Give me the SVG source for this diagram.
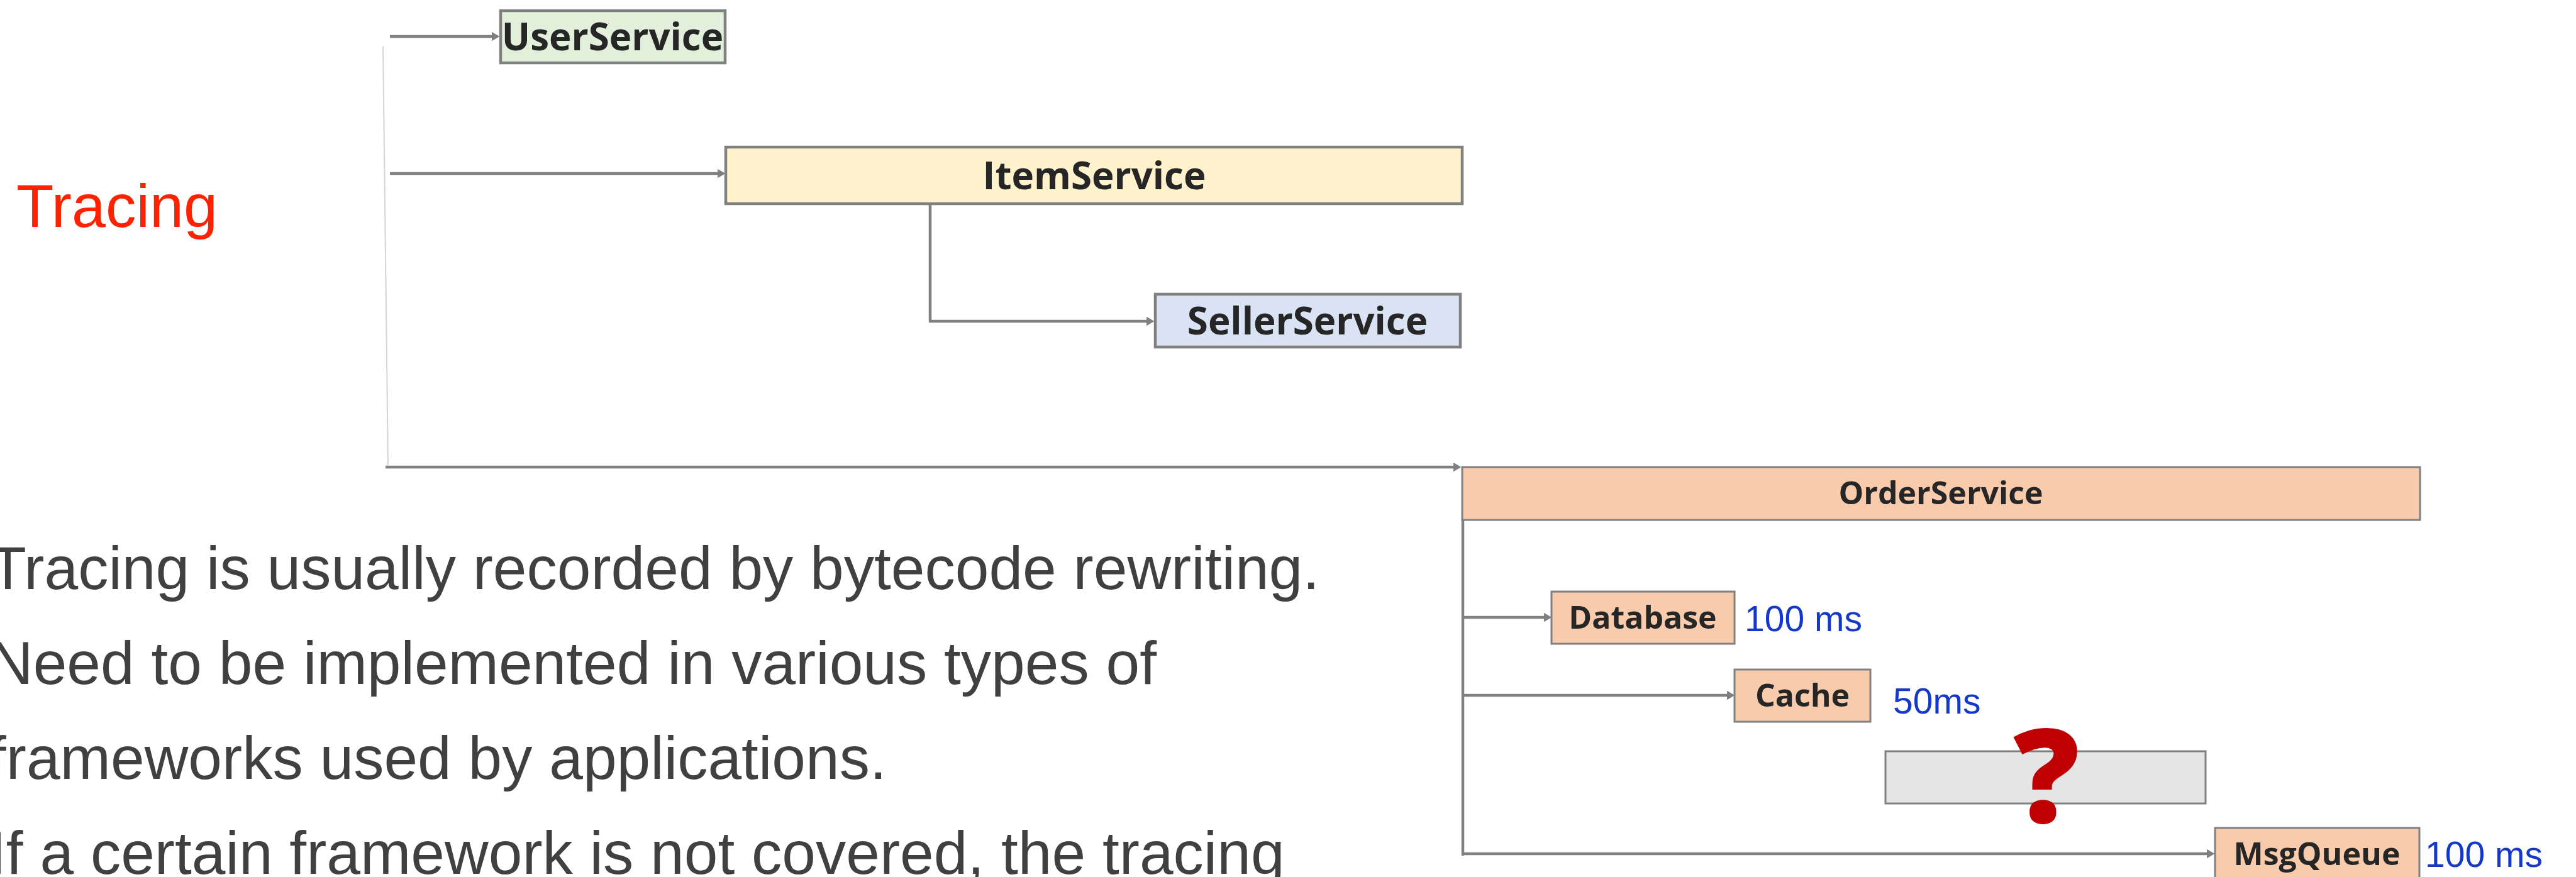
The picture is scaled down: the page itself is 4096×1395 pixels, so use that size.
<svg xmlns="http://www.w3.org/2000/svg" width="4096" height="1395" viewBox="0 0 4096 1395">
  <defs>
    <marker id="arrow" viewBox="0 0 12 14" refX="6" refY="7" markerWidth="13" markerHeight="15" markerUnits="userSpaceOnUse" orient="auto">
      <path d="M0,0 L12,7 L0,14 z" fill="#808080"/>
    </marker>
    <style>
      .svc { stroke: #808080; stroke-width: 4.5; }
      .sub { stroke: #808080; stroke-width: 3; }
      .lbl { font-family: "Open Sans", "Noto Sans", "DejaVu Sans", sans-serif; font-weight: 700; fill: #262626; text-anchor: middle; }
      .big { font-size: 60px; }
      .small { font-size: 50px; }
      .ms { font-family: "Liberation Sans", Arial, sans-serif; font-size: 57px; fill: #1438c8; }
      .body { font-family: "Liberation Sans", Arial, sans-serif; font-size: 96.5px; fill: #404040; }
      .conn { fill: none; stroke: #808080; stroke-width: 4.5; }
    </style>
  </defs>

  <rect width="4096" height="1395" fill="#ffffff"/>

  <!-- heading and notes -->
  <text x="26" y="361" font-family="Liberation Sans, Arial, sans-serif" font-size="97" fill="#ff2200">Tracing</text>
  <g id="notes">
    <text class="body" x="-17" y="937">Tracing is usually recorded by bytecode rewriting.</text>
    <text class="body" x="-17" y="1088">Need to be implemented in various types of</text>
    <text class="body" x="-17" y="1239">frameworks used by applications.</text>
    <text class="body" x="-17" y="1390">If a certain framework is not covered, the tracing</text>
  </g>

  <!-- call connectors -->
  <g id="connectors">
    <line x1="609" y1="74" x2="617" y2="740" stroke="#d4d4d4" stroke-width="2"/>
    <line class="conn" x1="620" y1="58" x2="788" y2="58" stroke-width="5" marker-end="url(#arrow)"/>
    <line class="conn" x1="620" y1="276" x2="1147" y2="276" stroke-width="5" marker-end="url(#arrow)"/>
    <path class="conn" d="M1479,319 V511" stroke-width="3.5"/>
    <line class="conn" x1="1477" y1="511" x2="1829" y2="511" stroke-width="5" marker-end="url(#arrow)"/>
    <line class="conn" x1="613" y1="743" x2="2317" y2="743" marker-end="url(#arrow)"/>
    <path class="conn" d="M2326,826 V1361"/>
    <line class="conn" x1="2326" y1="982" x2="2461" y2="982" marker-end="url(#arrow)"/>
    <line class="conn" x1="2326" y1="1106" x2="2752" y2="1106" marker-end="url(#arrow)"/>
    <line class="conn" x1="2326" y1="1358" x2="3515" y2="1358" marker-end="url(#arrow)"/>
  </g>

  <g id="user-service">
    <rect class="svc" x="796" y="17" width="357" height="83" fill="#e2efda"/>
    <text class="lbl big" x="974" y="80">UserService</text>
  </g>

  <g id="item-service">
    <rect class="svc" x="1154" y="234" width="1171" height="90" fill="#fff2cc"/>
    <text class="lbl big" x="1740" y="301">ItemService</text>
  </g>

  <g id="seller-service">
    <rect class="svc" x="1837" y="468" width="485" height="84" fill="#dae3f3"/>
    <text class="lbl big" x="2079" y="532">SellerService</text>
  </g>

  <g id="order-service">
    <rect class="sub" x="2325" y="743" width="1523" height="84" fill="#f8cbad"/>
    <text class="lbl small" x="3086" y="802">OrderService</text>
  </g>

  <g id="database">
    <rect class="sub" x="2467" y="941" width="291" height="83" fill="#f8cbad"/>
    <text class="lbl small" x="2612" y="1000">Database</text>
    <text class="ms" x="2774" y="1004">100 ms</text>
  </g>

  <g id="cache">
    <rect class="sub" x="2758" y="1065" width="216" height="83" fill="#f8cbad"/>
    <text class="lbl small" x="2866" y="1124">Cache</text>
    <text class="ms" x="3010" y="1135">50ms</text>
  </g>

  <g id="unknown-call">
    <rect class="sub" x="2998" y="1195" width="509" height="83" fill="#e5e5e5"/>
    <text x="3254" y="1308" font-family="Open Sans, Noto Sans, DejaVu Sans, sans-serif" font-weight="800" font-size="208" fill="#c00000" text-anchor="middle">?</text>
  </g>

  <g id="msg-queue">
    <rect class="sub" x="3522" y="1317" width="325" height="95" fill="#f8cbad"/>
    <text class="lbl small" x="3684" y="1376">MsgQueue</text>
    <text class="ms" x="3856" y="1379">100 ms</text>
  </g>
</svg>
